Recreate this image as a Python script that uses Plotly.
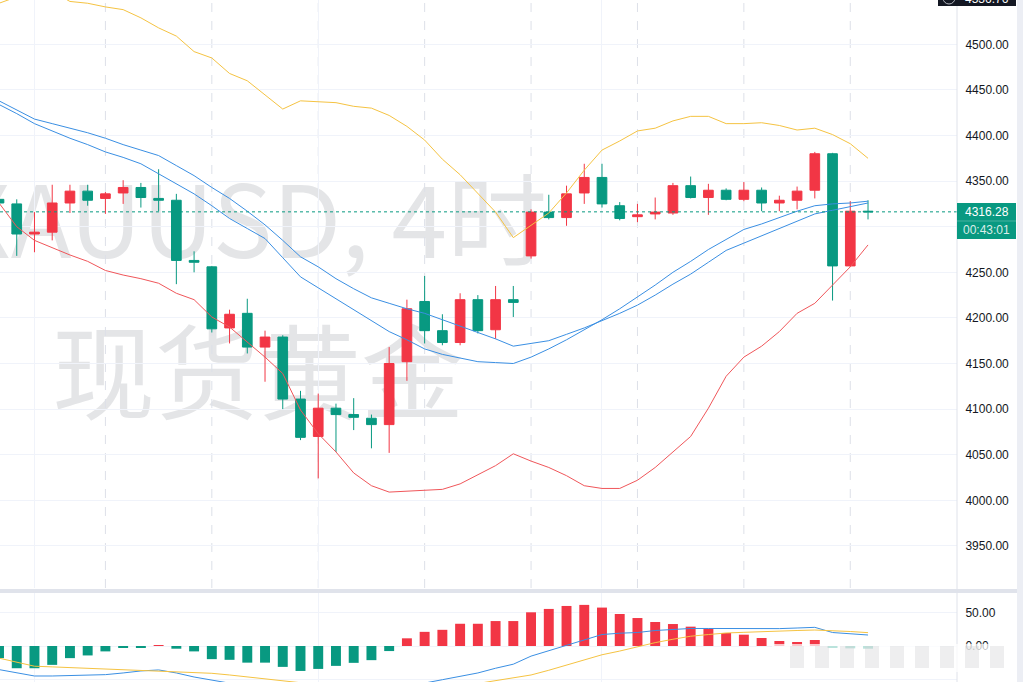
import plotly.graph_objects as go

W, H = 1023, 682
PANE_R = 957          # right edge of the plotting panes (px)

# ---------------- data ----------------
idx = list(range(50))
opens = [4330, 4325, 4292, 4294, 4326, 4339, 4331, 4337, 4343, 4331,
         4329, 4263, 4256, 4189, 4205, 4168, 4179, 4111, 4070, 4101,
         4094, 4090, 4083, 4152, 4218, 4186, 4173, 4220, 4187, 4220,
         4268, 4316, 4310, 4337, 4354, 4323, 4311, 4314, 4315, 4345,
         4332, 4340, 4330, 4340, 4326, 4329, 4340, 4380, 4257, 4317]
highs = [4332, 4330, 4316, 4346, 4346, 4346, 4338, 4351, 4348, 4363,
         4336, 4273, 4257, 4209, 4221, 4186, 4181, 4120, 4117, 4106,
         4112, 4094, 4168, 4220, 4246, 4204, 4227, 4225, 4235, 4235,
         4319, 4335, 4345, 4369, 4369, 4327, 4325, 4332, 4348, 4355,
         4347, 4342, 4349, 4343, 4334, 4344, 4382, 4381, 4328, 4329]
lows = [4322, 4268, 4272, 4285, 4315, 4323, 4314, 4325, 4321, 4317,
        4237, 4250, 4184, 4172, 4161, 4130, 4100, 4066, 4024, 4053,
        4077, 4057, 4052, 4131, 4172, 4170, 4170, 4183, 4177, 4201,
        4265, 4308, 4301, 4325, 4321, 4307, 4305, 4308, 4313, 4331,
        4313, 4329, 4328, 4317, 4317, 4319, 4331, 4219, 4256, 4308]
closes = [4326, 4292, 4294, 4326, 4339, 4329, 4336, 4343, 4332, 4329,
          4263, 4261, 4188, 4204, 4168, 4179, 4111, 4069, 4101, 4094,
          4091, 4083, 4150, 4210, 4186, 4173, 4220, 4186, 4220, 4217,
          4316, 4310, 4336, 4354, 4325, 4309, 4313, 4316, 4345, 4332,
          4340, 4330, 4340, 4326, 4329, 4339, 4380, 4257, 4317, 4316.28]

bb_upper = [4545, 4552, 4557, 4558, 4547, 4545, 4541, 4538, 4529, 4518,
            4509, 4492, 4485, 4468, 4460, 4444, 4429, 4438, 4437, 4436,
            4432, 4430, 4422, 4410, 4395, 4374, 4357, 4337, 4316, 4288,
            4302, 4315, 4337, 4362, 4384, 4394, 4405, 4408, 4416, 4421,
            4421, 4413, 4413, 4414, 4411, 4406, 4408, 4401, 4391, 4375]
bb_lower = [4326, 4300, 4285, 4277, 4269, 4262, 4252, 4247, 4243, 4238,
            4227, 4220, 4201, 4190, 4174, 4157, 4139, 4099, 4073, 4053,
            4030, 4016, 4009, 4010, 4011, 4012, 4018, 4028, 4038, 4051,
            4043, 4036, 4027, 4016, 4013, 4013, 4022, 4036, 4053, 4070,
            4101, 4136, 4157, 4169, 4185, 4205, 4216, 4236, 4256, 4280]
ma_a = [4438, 4428, 4418, 4413, 4408, 4403, 4397, 4390, 4384, 4378,
        4367, 4356, 4343, 4331, 4317, 4302, 4285, 4267, 4256, 4243,
        4232, 4222, 4216, 4210, 4205, 4198, 4191, 4184, 4177, 4169,
        4172, 4175, 4182, 4189, 4197, 4205, 4214, 4225, 4237, 4248,
        4261, 4274, 4282, 4290, 4298, 4306, 4314, 4318, 4322, 4326]
ma_b = [4434, 4424, 4413, 4405, 4397, 4390, 4382, 4376, 4369, 4358,
        4347, 4336, 4323, 4309, 4298, 4287, 4266, 4245, 4233, 4221,
        4209, 4197, 4185, 4176, 4166, 4160, 4156, 4152, 4151, 4150,
        4157, 4166, 4176, 4187, 4198, 4210, 4223, 4236, 4250, 4262,
        4275, 4286, 4297, 4303, 4310, 4317, 4323, 4325, 4326, 4328]

macd_hist = [-18, -33, -33, -28, -18, -14, -8, -2, -2, 1,
             -4, -8, -19.5, -20.5, -24.7, -24.7, -31, -37, -34, -29.5,
             -25, -21, -7.5, 11.4, 21, 24, 33, 33, 37, 37,
             50, 55, 59.4, 61, 57, 47.5, 41.5, 35.6, 32.6, 28.7,
             25.7, 19.3, 16.8, 11.9, 7.4, 5.9, 8.9, -3, -3.5, -4]
macd_line = [-35, -40, -44.5, -44.5, -44, -43.5, -42.5, -40, -37, -35.5,
             -40, -46, -50.5, -55, -60, -64, -69, -75, -78, -79,
             -78, -75, -68, -61, -55, -50, -45, -40, -33, -27,
             -15, -7, 0, 9, 17, 19, 20, 23, 25, 26,
             26, 25.8, 25.5, 25.2, 25.8, 26.7, 27.7, 20, 18, 16.3]
macd_signal = [-18, -24, -30, -31, -32, -33, -34, -35, -36, -37,
               -38, -39.5, -40.5, -43, -46, -49, -51, -54, -58, -61,
               -64, -66, -67, -67, -66, -64, -60, -56, -51, -47,
               -43, -36, -28, -20.5, -13, -7.5, -1, 5, 10, 14.5,
               17, 19.3, 20.3, 21.5, 22.3, 23, 23.7, 23, 21.5, 19.8]

price_ticks = [3950, 4000, 4050, 4100, 4150, 4200, 4250, 4300, 4350, 4400, 4450, 4500]
macd_ticks = [-50, 0, 50]
last_price = closes[-1]
countdown = "00:43:01"
top_label = "4536.76"
wm_line1 = "XAUUSD, 4时"
wm_line2 = "现货黄金"

# ---------------- styling ----------------
UP = "#F23645"
DOWN = "#089981"
GRID = "#f0f3fa"
TXT = "#131722"
FONT = "Liberation Sans"


def px(x):
    return x / W


def py(y):
    return 1 - y / H


fig = go.Figure()

fig.add_trace(go.Candlestick(
    x=idx, open=opens, high=highs, low=lows, close=closes,
    increasing=dict(line=dict(color=UP, width=1), fillcolor=UP),
    decreasing=dict(line=dict(color=DOWN, width=1), fillcolor=DOWN),
    whiskerwidth=0, showlegend=False, xaxis="x", yaxis="y"))

for vals, col in [(bb_upper, "#F5C342"), (bb_lower, "#F0565A"),
                  (ma_a, "#3A8FE3"), (ma_b, "#3A8FE3")]:
    fig.add_trace(go.Scatter(x=idx, y=vals, mode="lines",
                             line=dict(color=col, width=1),
                             showlegend=False, hoverinfo="skip",
                             xaxis="x", yaxis="y"))

fig.add_trace(go.Bar(x=idx, y=macd_hist,
                     marker=dict(color=[UP if v >= 0 else DOWN for v in macd_hist],
                                 line=dict(width=0)),
                     showlegend=False, xaxis="x2", yaxis="y2"))
fig.add_trace(go.Scatter(x=idx, y=macd_line, mode="lines",
                         line=dict(color="#3A8FE3", width=1),
                         showlegend=False, xaxis="x2", yaxis="y2"))
fig.add_trace(go.Scatter(x=idx, y=macd_signal, mode="lines",
                         line=dict(color="#F5C342", width=1),
                         showlegend=False, xaxis="x2", yaxis="y2"))

# x range so that candle i sits at pixel -1 + 17.735*i
step = 17.735
x_lo = 1 / step
x_hi = x_lo + PANE_R / step

main_bottom = 588
macd_top = 593
y_hi = 4500 + 44.3 / 0.912
y_lo = 4500 - (main_bottom - 44.3) / 0.912
m_hi = (646 - macd_top) / 0.674
m_lo = (646 - H) / 0.674

common_x = dict(range=[x_lo, x_hi], showgrid=True, gridcolor=GRID, gridwidth=1,
                tickvals=[2, 18, 34], showticklabels=False, zeroline=False,
                showline=False, ticks="", fixedrange=True)

fig.update_layout(
    width=W, height=H,
    margin=dict(l=0, r=0, t=0, b=0),
    paper_bgcolor="white", plot_bgcolor="white",
    showlegend=False,
    boxgap=0.3, boxgroupgap=0.22, bargap=0.44,
    xaxis=dict(domain=[0, px(PANE_R)], anchor="y",
               rangeslider=dict(visible=False), **common_x),
    xaxis2=dict(domain=[0, px(PANE_R)], anchor="y2", matches="x", **common_x),
    yaxis=dict(domain=[py(main_bottom), 1], range=[y_lo, y_hi], side="right",
               anchor="x", tickvals=price_ticks,
               ticktext=["" if abs(v - last_price) < 25 else f"{v:.2f}" for v in price_ticks],
               showgrid=True, gridcolor=GRID, zeroline=False,
               ticks="outside", ticklen=5, tickcolor="rgba(0,0,0,0)",
               tickfont=dict(family=FONT, size=12, color=TXT)),
    yaxis2=dict(domain=[0, py(macd_top)], range=[m_lo, m_hi], side="right",
                anchor="x2", tickvals=macd_ticks,
                ticktext=[f"{v:.2f}" for v in macd_ticks],
                showgrid=True, gridcolor=GRID, zeroline=False,
                ticks="outside", ticklen=5, tickcolor="rgba(0,0,0,0)",
                tickfont=dict(family=FONT, size=12, color=TXT)),
)

shapes = []
# watermark (behind the candles)
wm_font = dict(family="Noto Sans CJK SC", size=100, color="rgba(120,123,134,0.2)")
shapes.append(dict(type="rect", xref="paper", yref="paper", layer="below",
                   x0=px(250 - 320), x1=px(250 + 320), y0=py(280), y1=py(180),
                   line=dict(width=0), fillcolor="rgba(0,0,0,0)",
                   label=dict(text=wm_line1, font=wm_font, textposition="middle center")))
shapes.append(dict(type="rect", xref="paper", yref="paper", layer="below",
                   x0=px(258 - 320), x1=px(258 + 320), y0=py(433), y1=py(333),
                   line=dict(width=0), fillcolor="rgba(0,0,0,0)",
                   label=dict(text=wm_line2, font=dict(family="Noto Sans CJK SC", size=103,
                                                        color="rgba(120,123,134,0.2)"),
                              textposition="middle center")))
# session separators (every 6 four-hour bars)
for s in range(6, 50, 6):
    shapes.append(dict(type="line", xref="x", yref="paper", layer="below",
                       x0=s, x1=s, y0=py(main_bottom), y1=1,
                       line=dict(color="#dde0e8", width=1, dash="dash")))
# last price dotted line
shapes.append(dict(type="line", xref="paper", yref="y", x0=0, x1=px(PANE_R),
                   y0=last_price, y1=last_price,
                   line=dict(color=DOWN, width=1, dash="dot")))
# pane separator
shapes.append(dict(type="rect", xref="paper", yref="paper", x0=0, x1=1,
                   y0=py(macd_top), y1=py(main_bottom + 1),
                   line=dict(width=0), fillcolor="#e0e3eb"))
# price-scale border
shapes.append(dict(type="line", xref="paper", yref="paper", x0=px(PANE_R), x1=px(PANE_R),
                   y0=0, y1=1, line=dict(color="#dfe2ea", width=1)))
# right edge strip
shapes.append(dict(type="rect", xref="paper", yref="paper", x0=px(1017), x1=1,
                   y0=0, y1=1, line=dict(width=0), fillcolor="#eceef4"))
# last price label box
shapes.append(dict(type="rect", xref="paper", yref="paper", x0=px(957), x1=px(1016),
                   y0=py(239), y1=py(203), line=dict(width=0), fillcolor=DOWN))
shapes.append(dict(type="line", xref="paper", yref="paper", x0=px(957), x1=px(1016),
                   y0=py(221), y1=py(221), line=dict(color="rgba(255,255,255,0.25)", width=1)))
# dark label cut off at the top
shapes.append(dict(type="rect", xref="paper", yref="paper", x0=px(938), x1=px(1016),
                   y0=py(6), y1=py(-4), line=dict(width=0), fillcolor="#131722"))
shapes.append(dict(type="circle", xref="paper", yref="paper", x0=px(943), x1=px(955),
                   y0=py(4), y1=py(-8), line=dict(color="#b2b5be", width=1)))
# blurred overlay in the MACD pane
shapes.append(dict(type="rect", xref="paper", yref="paper", x0=px(772), x1=px(1012),
                   y0=py(672), y1=py(644), line=dict(width=0),
                   fillcolor="rgba(255,255,255,0.72)"))
for k in range(9):
    x0 = 790 + k * 25
    shapes.append(dict(type="rect", xref="paper", yref="paper", x0=px(x0), x1=px(x0 + 14),
                       y0=py(668), y1=py(646), line=dict(width=0),
                       fillcolor="rgba(205,205,208,0.35)"))
fig.update_layout(shapes=shapes)

fig.add_annotation(xref="paper", yref="paper", x=px(986.5), y=py(212.5),
                   xanchor="center", yanchor="middle",
                   text=f"{last_price:.2f}", showarrow=False,
                   font=dict(family=FONT, size=12, color="white"))
fig.add_annotation(xref="paper", yref="paper", x=px(986.5), y=py(230.5),
                   xanchor="center", yanchor="middle",
                   text=countdown, showarrow=False,
                   font=dict(family=FONT, size=12, color="rgba(255,255,255,0.85)"))
fig.add_annotation(xref="paper", yref="paper", x=px(986.5), y=py(-1),
                   xanchor="center", yanchor="middle",
                   text=top_label, showarrow=False,
                   font=dict(family=FONT, size=12, color="white"))

fig.write_html("out.html")
